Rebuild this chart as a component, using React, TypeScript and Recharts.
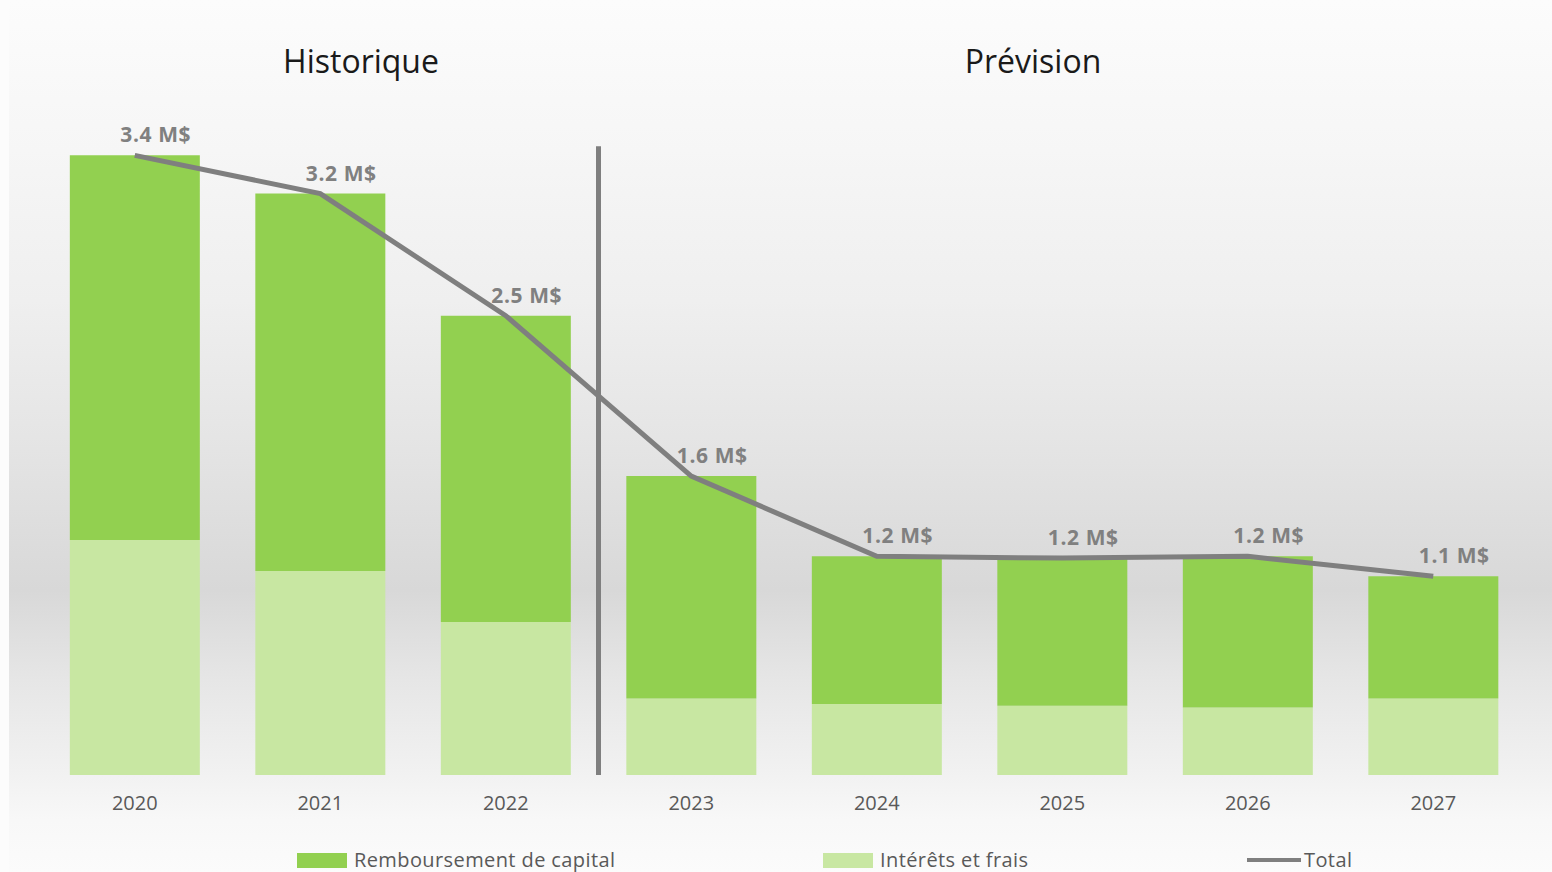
import { ComposedChart, Bar, Line, XAxis, YAxis, ReferenceLine, Legend, LabelList } from "recharts";

const years = ["2020", "2021", "2022", "2023", "2024", "2025", "2026", "2027"];
const capital = [2.11, 2.07, 1.68, 1.22, 0.81, 0.81, 0.83, 0.67];
const interets = [1.29, 1.12, 0.84, 0.42, 0.39, 0.38, 0.37, 0.42];
const sectionTitles = ["Historique", "Prévision"];
const lastHistoricYear = "2022";

const data = years.map((year, i) => ({
  year,
  capital: capital[i],
  interets: interets[i],
  total: +(capital[i] + interets[i]).toFixed(2),
}));

const FONT = "'Open Sans', 'Noto Sans', sans-serif";
const DARK_GREEN = "#92d050";
const LIGHT_GREEN = "#c8e7a2";
const GRAY_LINE = "#7f7f7f";

const TotalLabel = (props: any) => {
  const { x, y, value } = props;
  return (
    <text
      x={x + 21}
      y={y - 13}
      textAnchor="middle"
      fill="#808080"
      fontFamily={FONT}
      fontSize={21}
      fontWeight={700}
      letterSpacing={0.6}
    >
      {`${Number(value).toFixed(1)} M$`}
    </text>
  );
};

const legendItems = [
  { label: "Remboursement de capital", color: DARK_GREEN, kind: "box", width: 526 },
  { label: "Intérêts et frais", color: LIGHT_GREEN, kind: "box", width: 424 },
  { label: "Total", color: GRAY_LINE, kind: "line", width: 120 },
];

const LegendContent = () => (
  <div style={{ display: "flex", alignItems: "center", height: 24, lineHeight: "24px", fontFamily: FONT, fontSize: 20, color: "#595959" }}>
    {legendItems.map((it) => (
      <div key={it.label} style={{ display: "flex", alignItems: "center", width: it.width }}>
        {it.kind === "box" ? (
          <span style={{ display: "inline-block", width: 50, height: 15, background: it.color, marginRight: 7 }} />
        ) : (
          <span style={{ display: "inline-block", width: 54, height: 4, background: it.color, marginRight: 3 }} />
        )}
        <span style={{ letterSpacing: 0.4 }}>{it.label}</span>
      </div>
    ))}
  </div>
);

export default function App() {
  return (
    <div
      style={{
        position: "absolute",
        left: 0,
        top: 0,
        width: 1552,
        height: 872,
        background: "#fcfcfc",
        overflow: "hidden",
      }}
    >
      <div
        style={{
          position: "absolute",
          left: 9,
          top: 0,
          width: 1543,
          height: 872,
          background:
            "linear-gradient(to bottom, #fcfcfc 0px, #f6f6f6 150px, #efefef 300px, #e4e4e4 450px, #d8d8d8 590px, #e6e6e6 680px, #f1f1f1 770px, #f8f8f8 820px, #fbfbfb 872px)",
        }}
      />
      <div style={{ position: "absolute", left: 361, top: 39, transform: "translateX(-50%)", fontFamily: FONT, fontSize: 32, color: "#1a1a1a", whiteSpace: "nowrap" }}>
        {sectionTitles[0]}
      </div>
      <div style={{ position: "absolute", left: 1033, top: 39, transform: "translateX(-50%)", fontFamily: FONT, fontSize: 32, color: "#1a1a1a", whiteSpace: "nowrap" }}>
        {sectionTitles[1]}
      </div>
      <div style={{ position: "absolute", left: 0, top: 0 }}>
        <ComposedChart
          width={1552}
          height={872}
          data={data}
          margin={{ top: 46, right: 26, left: 42, bottom: 15 }}
          barCategoryGap="15%"
        >
          <XAxis
            xAxisId="cat"
            dataKey="year"
            axisLine={false}
            tickLine={false}
            tickSize={0}
            tickMargin={21}
            height={58}
            tick={{ fill: "#595959", fontSize: 20, fontFamily: FONT }}
          />
          <YAxis domain={[0, 4]} hide />
          <Bar xAxisId="cat" dataKey="interets" stackId="a" fill={LIGHT_GREEN} isAnimationActive={false} />
          <Bar xAxisId="cat" dataKey="capital" stackId="a" fill={DARK_GREEN} isAnimationActive={false} />
          <ReferenceLine
            xAxisId="cat"
            segment={[{ x: lastHistoricYear, y: 0 }, { x: lastHistoricYear, y: 3.45 }]}
            position="end"
            stroke={GRAY_LINE}
            strokeWidth={5}
            ifOverflow="visible"
          />
          <Line
            xAxisId="cat"
            dataKey="total"
            stroke={GRAY_LINE}
            strokeWidth={5}
            dot={false}
            type="linear"
            isAnimationActive={false}
          >
            <LabelList dataKey="total" content={TotalLabel} />
          </Line>
          <Legend
            verticalAlign="bottom"
            content={LegendContent}
            wrapperStyle={{ left: 297, width: "auto", bottom: 0 }}
          />
        </ComposedChart>
      </div>
    </div>
  );
}
